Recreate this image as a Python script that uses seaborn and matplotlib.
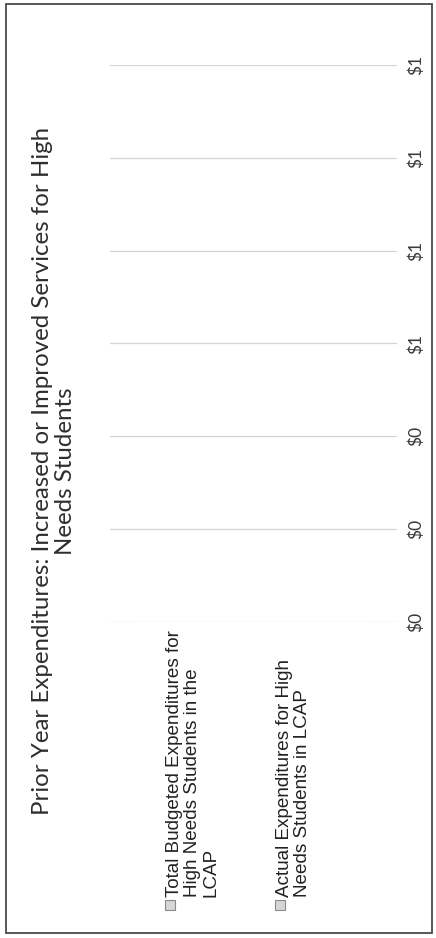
import matplotlib
matplotlib.use("Agg")
import matplotlib.pyplot as plt
from matplotlib.patches import Rectangle
from matplotlib.ticker import StrMethodFormatter
import pandas as pd
import seaborn as sns

# Chart content
title = ("Prior Year Expenditures: Increased or Improved Services for High\n"
         "Needs Students")
series = [
    "Total Budgeted Expenditures for High Needs Students in the LCAP",
    "Actual Expenditures for High Needs Students in LCAP",
]
legend_labels = [
    "Total Budgeted Expenditures for\nHigh Needs Students in the\nLCAP",
    "Actual Expenditures for High\nNeeds Students in LCAP",
]
category = [""]
values = [0, 0]
tick_values = [0, 0.2, 0.4, 0.6, 0.8, 1.0, 1.2]
swatch_colors = ["#d6d6d6", "#d6d6d6"]

sns.set_theme(style="white")
plt.rcParams["font.family"] = ["DejaVu Sans"]

W, H = 436, 938
fig = plt.figure(figsize=(W / 100, H / 100), dpi=100)


def fx(px):
    return px / W


def fy(py):
    return 1 - py / H


# The chart is laid out turned a quarter turn: values run upward,
# the value labels sit on the right and all text reads bottom-to-top.
ax = fig.add_axes([fx(110), fy(622), fx(397 - 110), (622 - 65) / H])

df = pd.DataFrame({
    "category": category * len(series),
    "series": series,
    "value": values,
})
sns.barplot(data=df, x="category", y="value", hue="series",
            palette=swatch_colors, legend=False, ax=ax)

ax.set_ylim(0, 1.2)
ax.set_yticks(tick_values)
ax.yaxis.set_major_formatter(StrMethodFormatter("${x:,.0f}"))
ax.yaxis.tick_right()
ax.tick_params(axis="y", length=0, pad=8, labelsize=12.5,
               labelcolor="#3a3a3a", labelrotation=90)
for lbl in ax.get_yticklabels():
    lbl.set_family(["Lato", "DejaVu Sans"])
    lbl.set_va("center")
ax.tick_params(axis="x", length=0, labelbottom=False)
ax.set_xlabel("")
ax.set_ylabel("")
ax.grid(axis="y", color="#d4d4d4", linewidth=0.9)
ax.grid(axis="x", visible=False)
for sp in ax.spines.values():
    sp.set_visible(False)

# Title
fig.text(fx(54), fy(471), title, rotation=90, ha="center", va="center",
         multialignment="center", fontsize=17.3, color="#2e2e2e",
         family=["Lato", "DejaVu Sans"], linespacing=1.15)

# Legend, one entry per series
legend_x = [166, 276]
for label, color, x0 in zip(legend_labels, swatch_colors, legend_x):
    fig.add_artist(Rectangle((fx(x0 - 1), fy(910)), fx(10), 10 / H,
                             transform=fig.transFigure, facecolor=color,
                             edgecolor="#8a8a8a", linewidth=0.8))
    fig.text(fx(x0), fy(897), label, rotation=90,
             ha="left", va="bottom", multialignment="left",
             fontsize=13.6, color="#222222",
             family=["Liberation Sans", "DejaVu Sans"], linespacing=1.1)

# Chart area border
fig.add_artist(Rectangle((fx(6), fy(933)), fx(432 - 6), (933 - 4) / H,
                         transform=fig.transFigure, fill=False,
                         edgecolor="#4a4a4a", linewidth=1.3))

fig.savefig("out.png", dpi=100)
